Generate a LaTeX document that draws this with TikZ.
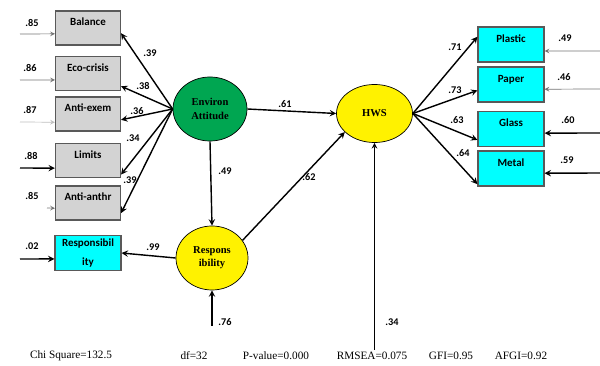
\documentclass[tikz,border=0pt]{standalone}
\usepackage{fontspec}
\setmainfont{Liberation Serif}
\newfontfamily\lblfont{Carlito}
\usetikzlibrary{shapes.geometric}
\definecolor{envgreen}{RGB}{0,166,81}
\definecolor{boxgray}{RGB}{211,211,211}
\definecolor{boxcyan}{RGB}{0,255,255}
\begin{document}
\begin{tikzpicture}[x=0.025cm,y=-0.025cm,
  graybox/.style={rectangle,draw=black!65,line width=0.8pt,fill=boxgray,inner sep=0pt,
    minimum width=1.625cm,minimum height=0.85cm,text height=5.5pt,text depth=9pt,
    font=\lblfont\bfseries\fontsize{7.8}{9}\selectfont},
  cyanbox/.style={graybox,fill=boxcyan,minimum width=1.65cm,minimum height=0.875cm},
  latent/.style={ellipse,draw=black,line width=0.5pt,inner sep=0pt,align=center,
    font=\bfseries\fontsize{7.5}{9.5}\selectfont},
  num/.style={inner sep=0pt,font=\lblfont\bfseries\fontsize{7.3}{8}\selectfont},
  fit/.style={inner sep=0pt,font=\fontsize{8}{9}\selectfont},
  errthin/.style={draw=black!55,line width=0.5pt},
  errthick/.style={draw=black,line width=1pt}]
\useasboundingbox (0,0) rectangle (600,366);
%
\node at (88,28) [graybox] (bal) {Balance};
\node at (88,73.5) [graybox] (eco) {Eco-crisis};
\node at (88,114) [graybox] (aex) {Anti-exem};
\node at (88,160.5) [graybox] (lim) {Limits};
\node at (88,203) [graybox] (aan) {Anti-anthr};
\node at (88,253) [cyanbox,text height=,text depth=,align=center,font=\lblfont\bfseries\fontsize{7.8}{13}\selectfont] (rbox) {Responsibil\\ity};
%
\node at (511,44.5) [cyanbox] (pla) {Plastic};
\node at (511,84.5) [cyanbox] (pap) {Paper};
\node at (511,129) [cyanbox] (gla) {Glass};
\node at (511,168.5) [cyanbox] (met) {Metal};
%
\node at (210,109) [latent,fill=envgreen,minimum width=1.85cm,minimum height=1.6cm] (ea) {Environ\\Attitude};
\node at (374.5,113.5) [latent,fill=yellow,minimum width=1.9cm,minimum height=1.45cm] (hws) {HWS};
\node at (212,258) [latent,fill=yellow,minimum width=1.8cm,minimum height=1.6cm] (resp) {Respons\\ibility};
%
\coordinate (ebal) at (20,34);
\coordinate (eeco) at (20,80);
\coordinate (eaex) at (20,122);
\coordinate (elim) at (20,168);
\coordinate (eaan) at (47,208);
\coordinate (erb) at (20,259);
\coordinate (epla) at (600,51);
\coordinate (epap) at (600,89);
\coordinate (egla) at (600,133);
\coordinate (emet) at (600,173);
\coordinate (eresp) at (212,326);
\coordinate (ehws) at (374.5,350);
%
\draw[errthin,-stealth] (ebal) -- (bal.190);
\draw[errthin,-stealth] (eeco) -- (eco.191);
\draw[errthin,draw=black!25,-stealth] (eaex) -- (aex.194);
\draw[errthick,-stealth] (elim) -- (lim.193);
\draw[errthin,-stealth] (eaan) -- (aan.189);
\draw[errthick,-stealth] (erb) -- (rbox.190);
\draw[errthin,-stealth] (epla) -- (pla.-11);
\draw[errthin,-stealth] (epap) -- (pap.-8);
\draw[errthick,-stealth] (egla) -- (gla.-7);
\draw[errthick,-stealth] (emet) -- (met.-8);
\draw[errthick,-stealth] (eresp) -- (resp.south);
\draw[errthick,line width=0.8pt,-stealth] (ehws) -- (hws.south);
%
\draw[errthick,stealth-] (bal.-9) -- (ea.west);
\draw[errthick,stealth-] (eco.-21) -- (ea.west);
\draw[errthick,stealth-] (aex.-10) -- (ea.west);
\draw[errthick,stealth-] (lim.-23) -- (ea.west);
\draw[errthick,stealth-] (aan.-17) -- (ea.west);
%
\draw[errthick,stealth-] (hws.west) -- (ea.east);
\draw[errthick,stealth-] (resp.north) -- (ea.south);
\draw[errthick,stealth-] (hws.-148) -- (resp.30);
\draw[errthick,stealth-] (rbox.east) -- (resp.west);
%
\draw[errthick,stealth-] (pla.167) -- (hws.east);
\draw[errthick,stealth-] (pap.190) -- (hws.east);
\draw[errthick,stealth-] (gla.198) -- (hws.east);
\draw[errthick,stealth-] (met.205) -- (hws.east);
%
\node at (32,23) [num] (nbal) {.85};
\node at (30,68) [num] (neco) {.86};
\node at (30,110) [num] (naex) {.87};
\node at (31,156) [num] (nlim) {.88};
\node at (32,196) [num] (naan) {.85};
\node at (32,246) [num] (nrb) {.02};
\node at (565,38) [num] (npla) {.49};
\node at (564,77) [num] (npap) {.46};
\node at (568,120) [num] (ngla) {.60};
\node at (567,160) [num] (nmet) {.59};
%
\node at (150,53) [num] (l1) {.39};
\node at (143,86) [num] (l2) {.38};
\node at (137,111) [num] (l3) {.36};
\node at (133,138) [num] (l4) {.34};
\node at (130,180) [num] (l5) {.39};
\node at (285,104) [num] (l6) {.61};
\node at (225,171) [num] (l7) {.49};
\node at (309,177) [num] (l8) {.62};
\node at (153,247) [num] (l9) {.99};
\node at (225,322) [num] (l10) {.76};
\node at (392,322) [num] (l11) {.34};
\node at (455,47) [num] (l12) {.71};
\node at (455,90) [num] (l13) {.73};
\node at (457,120) [num] (l14) {.63};
\node at (463,153) [num] (l15) {.64};
%
\node at (71,356) [fit] (chi) {Chi Square=132.5};
\node at (194,356) [fit] (df) {df=32};
\node at (276,356) [fit] (pval) {P-value=0.000};
\node at (372,356) [fit] (rmsea) {RMSEA=0.075};
\node at (451,356) [fit] (gfi) {GFI=0.95};
\node at (521,356) [fit] (agfi) {AFGI=0.92};
\end{tikzpicture}
\end{document}
